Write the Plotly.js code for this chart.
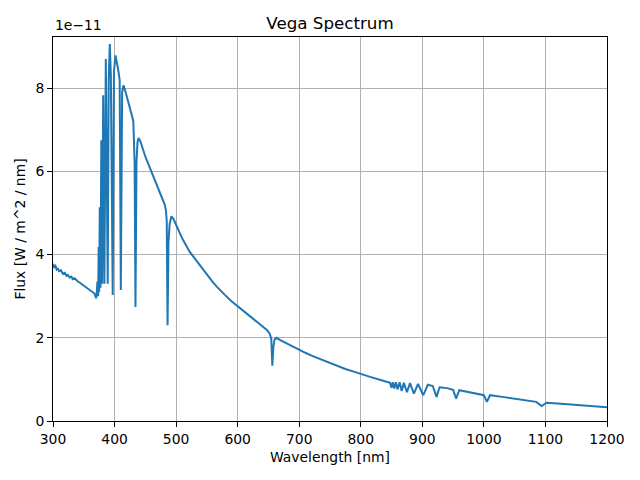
<!DOCTYPE html>
<html>
<head>
<meta charset="utf-8">
<script src="https://cdn.plot.ly/plotly-3.0.1.min.js"></script>
<style>html,body{margin:0;padding:0;background:#fff;} #chart{width:640px;height:480px;}</style>
</head>
<body>
<div id="chart"></div>
<script>
// Wavelength in nm
const wavelength = [
  300, 302, 304, 306, 308, 310, 313, 316, 319, 322, 324, 327, 330, 332, 335, 338, 340, 343, 346, 349, 352, 355, 357, 360, 363, 365, 367, 368.5, 370, 371.3,
  372.2, 373.4, 374.2, 375.0, 376.0, 377.1, 378.5, 379.8, 381.5, 383.5, 385.8, 388.9, 390.5, 392.3, 394.0, 397.0, 399.0, 401.5, 404, 406, 408.3, 410.2, 412.3, 414.6,
  418, 421.8, 425, 427.3, 430.5, 432.6, 434.0, 435.6, 437.3, 439.0, 442, 446, 449, 452, 455, 460, 465, 471, 475, 479, 481.5, 483.5, 484.8, 486.1, 487.6, 489.5, 492.5,
  496, 501, 508, 512, 517, 522, 528, 533, 539, 545, 552, 559, 566, 573, 580, 590, 601, 610, 620, 630, 641.6, 648, 652, 654.6, 656.3, 658.0, 660, 663,
  670, 680, 690, 701, 710, 720, 735, 750, 765, 775, 790, 801, 815, 831, 840, 847.5,
  850, 852, 854.5, 857, 859.8, 863, 866.5, 870, 875, 880, 886.3, 893, 901.5, 909, 917, 923, 928, 940, 950, 954.8, 960,
  975, 990, 1000, 1004.9, 1010, 1030, 1050, 1070, 1085, 1093.8, 1102, 1120, 1150, 1175, 1200
];
// Flux in units of 1e-11 W / m^2 / nm
const flux = [
  3.78, 3.70, 3.73, 3.64, 3.66, 3.60, 3.62, 3.54, 3.56, 3.49, 3.51, 3.45, 3.47, 3.41, 3.43, 3.37, 3.36, 3.33, 3.30, 3.27, 3.24, 3.21, 3.19, 3.16, 3.13, 3.11, 3.07, 3.02, 2.95, 3.12,
  3.35, 3.00, 4.18, 3.10, 5.14, 3.20, 6.75, 3.30, 7.83, 3.30, 8.70, 3.30, 8.20, 9.06, 8.30, 3.03, 8.40, 8.79, 8.62, 8.43, 8.20, 3.15, 7.90, 8.07,
  7.90, 7.71, 7.52, 7.39, 7.20, 6.20, 2.74, 6.20, 6.70, 6.80, 6.72, 6.50, 6.40, 6.28, 6.17, 6.00, 5.83, 5.60, 5.47, 5.33, 5.20, 5.06, 4.80, 2.30, 4.30, 4.74, 4.92,
  4.85, 4.67, 4.45, 4.33, 4.19, 4.07, 3.95, 3.85, 3.75, 3.62, 3.48, 3.35, 3.23, 3.12, 3.02, 2.88, 2.75, 2.63, 2.51, 2.40, 2.27, 2.18, 2.10, 1.98, 1.33, 1.78, 1.96, 2.00,
  1.94, 1.86, 1.79, 1.70, 1.64, 1.57, 1.48, 1.39, 1.31, 1.25, 1.18, 1.12, 1.06, 0.99, 0.95, 0.92,
  0.80, 0.93, 0.78, 0.93, 0.76, 0.93, 0.72, 0.92, 0.69, 0.91, 0.66, 0.89, 0.62, 0.87, 0.84, 0.58, 0.81, 0.79, 0.75, 0.54, 0.74,
  0.70, 0.65, 0.62, 0.46, 0.62, 0.58, 0.53, 0.49, 0.46, 0.36, 0.44, 0.42, 0.39, 0.36, 0.33
];
const SCALE = 1e-11;
const yTickValues = [0, 2, 4, 6, 8];
const yTickLabels = ['0', '2', '4', '6', '8'];
const xTickValues = [300, 400, 500, 600, 700, 800, 900, 1000, 1100, 1200];

const trace = {
  x: wavelength,
  y: flux.map(v => v * SCALE),
  type: 'scatter',
  mode: 'lines',
  line: {color: '#1f77b4', width: 2},
  hoverinfo: 'skip'
};

const fontFam = 'DejaVu Sans, sans-serif';
const layout = {
  width: 640, height: 480,
  margin: {l: 53, r: 33, t: 37, b: 59, pad: 0},
  paper_bgcolor: '#ffffff', plot_bgcolor: '#ffffff',
  showlegend: false,
  font: {family: fontFam, size: 13.9, color: '#000'},
  title: {text: 'Vega Spectrum', font: {family: fontFam, size: 16.7, color: '#000'},
          x: 0.5, xref: 'paper', y: 1 - 23/480, yref: 'container', yanchor: 'middle'},
  xaxis: {
    range: [300, 1200], tickvals: xTickValues,
    showgrid: true, gridcolor: '#b0b0b0', gridwidth: 1,
    showline: true, linecolor: '#000', linewidth: 1, mirror: true,
    ticks: 'outside', ticklen: 5, tickwidth: 1, tickcolor: '#000',
    zeroline: false, automargin: false,
    tickfont: {family: fontFam, size: 13.9, color: '#000'},
    title: {text: 'Wavelength [nm]', font: {family: fontFam, size: 13.9, color: '#000'}, standoff: 6}
  },
  yaxis: {
    range: [0, 9.23 * SCALE],
    tickvals: yTickValues.map(v => v * SCALE), ticktext: yTickLabels,
    showgrid: true, gridcolor: '#b0b0b0', gridwidth: 1,
    showline: true, linecolor: '#000', linewidth: 1, mirror: true,
    ticks: 'outside', ticklen: 5, tickwidth: 1, tickcolor: '#000',
    zeroline: false, automargin: false,
    tickfont: {family: fontFam, size: 13.9, color: '#000'},
    title: {text: 'Flux [W / m^2 / nm]', font: {family: fontFam, size: 13.9, color: '#000'}, standoff: 6}
  },
  annotations: [{
    text: '1e\u221211', xref: 'paper', yref: 'paper', x: 0, y: 1,
    xanchor: 'left', yanchor: 'bottom', yshift: 2, showarrow: false,
    font: {family: fontFam, size: 13.9, color: '#000'}
  }]
};

Plotly.newPlot('chart', [trace], layout, {staticPlot: true, displayModeBar: false});
</script>
</body>
</html>
